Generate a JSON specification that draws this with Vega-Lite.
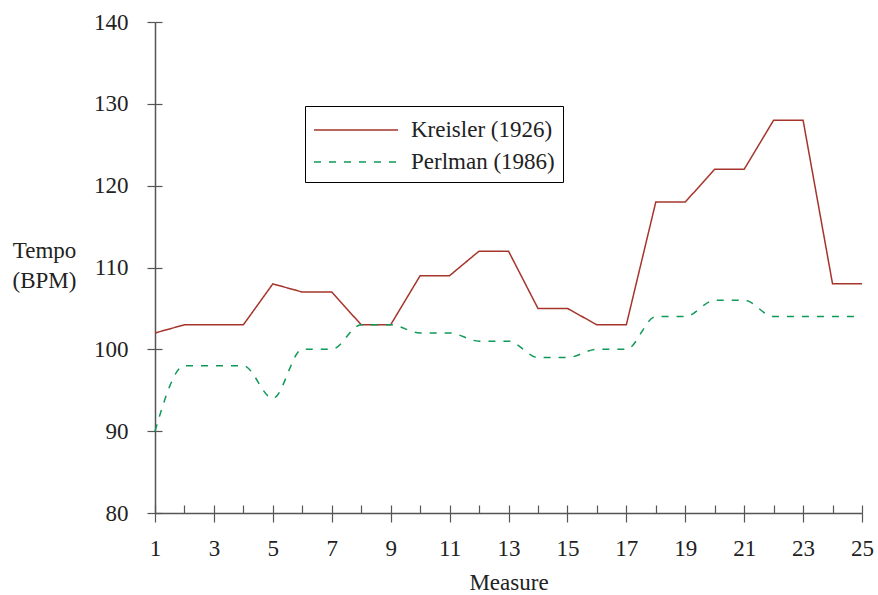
{
  "$schema": "https://vega.github.io/schema/vega-lite/v6.json",
  "width": 707,
  "height": 491,
  "autosize": "none",
  "padding": {"left": 155, "top": 22, "right": 16, "bottom": 82},
  "background": "white",
  "config": {"view": {"stroke": null}, "font": "Liberation Serif"},
  "data": {"values": [
    {"measure": 1, "tempo": 102, "series": "Kreisler (1926)"},
    {"measure": 2, "tempo": 103, "series": "Kreisler (1926)"},
    {"measure": 3, "tempo": 103, "series": "Kreisler (1926)"},
    {"measure": 4, "tempo": 103, "series": "Kreisler (1926)"},
    {"measure": 5, "tempo": 108, "series": "Kreisler (1926)"},
    {"measure": 6, "tempo": 107, "series": "Kreisler (1926)"},
    {"measure": 7, "tempo": 107, "series": "Kreisler (1926)"},
    {"measure": 8, "tempo": 103, "series": "Kreisler (1926)"},
    {"measure": 9, "tempo": 103, "series": "Kreisler (1926)"},
    {"measure": 10, "tempo": 109, "series": "Kreisler (1926)"},
    {"measure": 11, "tempo": 109, "series": "Kreisler (1926)"},
    {"measure": 12, "tempo": 112, "series": "Kreisler (1926)"},
    {"measure": 13, "tempo": 112, "series": "Kreisler (1926)"},
    {"measure": 14, "tempo": 105, "series": "Kreisler (1926)"},
    {"measure": 15, "tempo": 105, "series": "Kreisler (1926)"},
    {"measure": 16, "tempo": 103, "series": "Kreisler (1926)"},
    {"measure": 17, "tempo": 103, "series": "Kreisler (1926)"},
    {"measure": 18, "tempo": 118, "series": "Kreisler (1926)"},
    {"measure": 19, "tempo": 118, "series": "Kreisler (1926)"},
    {"measure": 20, "tempo": 122, "series": "Kreisler (1926)"},
    {"measure": 21, "tempo": 122, "series": "Kreisler (1926)"},
    {"measure": 22, "tempo": 128, "series": "Kreisler (1926)"},
    {"measure": 23, "tempo": 128, "series": "Kreisler (1926)"},
    {"measure": 24, "tempo": 108, "series": "Kreisler (1926)"},
    {"measure": 25, "tempo": 108, "series": "Kreisler (1926)"},
    {"measure": 1, "tempo": 90, "series": "Perlman (1986)"},
    {"measure": 2, "tempo": 98, "series": "Perlman (1986)"},
    {"measure": 3, "tempo": 98, "series": "Perlman (1986)"},
    {"measure": 4, "tempo": 98, "series": "Perlman (1986)"},
    {"measure": 5, "tempo": 94, "series": "Perlman (1986)"},
    {"measure": 6, "tempo": 100, "series": "Perlman (1986)"},
    {"measure": 7, "tempo": 100, "series": "Perlman (1986)"},
    {"measure": 8, "tempo": 103, "series": "Perlman (1986)"},
    {"measure": 9, "tempo": 103, "series": "Perlman (1986)"},
    {"measure": 10, "tempo": 102, "series": "Perlman (1986)"},
    {"measure": 11, "tempo": 102, "series": "Perlman (1986)"},
    {"measure": 12, "tempo": 101, "series": "Perlman (1986)"},
    {"measure": 13, "tempo": 101, "series": "Perlman (1986)"},
    {"measure": 14, "tempo": 99, "series": "Perlman (1986)"},
    {"measure": 15, "tempo": 99, "series": "Perlman (1986)"},
    {"measure": 16, "tempo": 100, "series": "Perlman (1986)"},
    {"measure": 17, "tempo": 100, "series": "Perlman (1986)"},
    {"measure": 18, "tempo": 104, "series": "Perlman (1986)"},
    {"measure": 19, "tempo": 104, "series": "Perlman (1986)"},
    {"measure": 20, "tempo": 106, "series": "Perlman (1986)"},
    {"measure": 21, "tempo": 106, "series": "Perlman (1986)"},
    {"measure": 22, "tempo": 104, "series": "Perlman (1986)"},
    {"measure": 23, "tempo": 104, "series": "Perlman (1986)"},
    {"measure": 24, "tempo": 104, "series": "Perlman (1986)"},
    {"measure": 25, "tempo": 104, "series": "Perlman (1986)"}
  ]},
  "layer": [
    {
      "transform": [{"filter": "datum.series === 'Kreisler (1926)'"}],
      "mark": {"type": "line", "strokeWidth": 1.5},
      "encoding": {
        "x": {
          "field": "measure", "type": "quantitative",
          "scale": {"domain": [1, 25], "nice": false, "zero": false},
          "axis": {
            "orient": "bottom",
            "values": [1, 3, 5, 7, 9, 11, 13, 15, 17, 19, 21, 23, 25],
            "title": "Measure", "titleFont": "Liberation Serif", "titleFontSize": 23, "titleFontWeight": "normal", "titleColor": "#222",
            "titlePadding": 11,
            "labelFont": "Liberation Serif", "labelFontSize": 23, "labelColor": "#222", "labelPadding": 15,
            "tickSize": 9, "tickColor": "#555", "domainColor": "#555", "tickWidth": 1.2, "domainWidth": 1.5,
            "grid": false, "labelFlush": false
          }
        },
        "y": {
          "field": "tempo", "type": "quantitative",
          "scale": {"domain": [80, 140], "nice": false, "zero": false},
          "axis": {
            "orient": "left",
            "values": [80, 90, 100, 110, 120, 130, 140],
            "title": ["Tempo", "(BPM)"], "titleAngle": 0, "titleAlign": "center", "titleBaseline": "middle",
            "titleX": -111, "titleY": 228, "titleLineHeight": 30,
            "titleFont": "Liberation Serif", "titleFontSize": 23, "titleFontWeight": "normal", "titleColor": "#222",
            "labelFont": "Liberation Serif", "labelFontSize": 23, "labelColor": "#222", "labelPadding": 19,
            "tickSize": 8, "tickColor": "#555", "domainColor": "#555", "tickWidth": 1.2, "domainWidth": 1.5,
            "grid": false
          }
        },
        "color": {
          "field": "series", "type": "nominal",
          "scale": {"domain": ["Kreisler (1926)", "Perlman (1986)"], "range": ["#a5352b", "#0f9957"]},
          "legend": {
            "title": null, "orient": "none", "legendX": 150, "legendY": 84, "direction": "vertical",
            "strokeColor": "black", "fillColor": "white", "padding": 8,
            "symbolType": "M-2.8,0H2.8", "symbolSize": 900, "symbolStrokeWidth": 1.5, "symbolOffset": 27,
            "labelFont": "Liberation Serif", "labelFontSize": 23, "labelColor": "#222", "labelOffset": 39, "rowPadding": 4,
            "labelExpr": "datum.label + '\u00a0\u00a0\u00a0'"
          }
        },
        "strokeDash": {
          "field": "series", "type": "nominal",
          "scale": {"domain": ["Kreisler (1926)", "Perlman (1986)"], "range": [[1, 0], [7, 8]]},
          "legend": {
            "title": null, "orient": "none", "legendX": 150, "legendY": 84, "direction": "vertical",
            "strokeColor": "black", "fillColor": "white", "padding": 8,
            "symbolType": "M-2.8,0H2.8", "symbolSize": 900, "symbolStrokeWidth": 1.5, "symbolOffset": 27,
            "labelFont": "Liberation Serif", "labelFontSize": 23, "labelColor": "#222", "labelOffset": 39, "rowPadding": 4,
            "labelExpr": "datum.label + '\u00a0\u00a0\u00a0'"
          }
        }
      }
    },
    {
      "transform": [{"filter": "datum.series === 'Perlman (1986)'"}],
      "mark": {"type": "line", "strokeWidth": 1.5, "interpolate": "monotone"},
      "encoding": {
        "x": {
          "field": "measure", "type": "quantitative",
          "axis": {
            "orient": "bottom",
            "values": [1, 2, 3, 4, 5, 6, 7, 8, 9, 10, 11, 12, 13, 14, 15, 16, 17, 18, 19, 20, 21, 22, 23, 24, 25],
            "title": null, "labels": false, "domain": false, "grid": false,
            "tickSize": -8, "tickColor": "#555", "tickWidth": 1.2
          }
        },
        "y": {
          "field": "tempo", "type": "quantitative",
          "axis": {
            "orient": "left",
            "values": [80, 90, 100, 110, 120, 130, 140],
            "title": null, "labels": false, "domain": false, "grid": false,
            "tickSize": -7, "tickColor": "#555", "tickWidth": 1.2
          }
        },
        "color": {"field": "series", "type": "nominal"},
        "strokeDash": {"field": "series", "type": "nominal"}
      }
    }
  ],
  "resolve": {"axis": {"x": "independent", "y": "independent"}}
}
